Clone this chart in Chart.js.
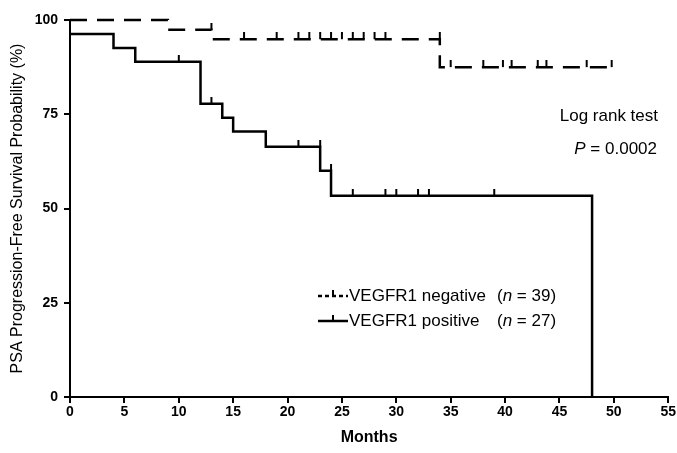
<!DOCTYPE html>
<html>
<head>
<meta charset="utf-8">
<script src="https://cdn.jsdelivr.net/npm/chart.js@4/dist/chart.umd.min.js"></script>
<style>
  body { margin: 0; background: #fff; }
  #km { display: block; }
</style>
</head>
<body>
<canvas id="km" width="677" height="453"></canvas>
<script>
// Kaplan-Meier steps (months, survival %)
const negTimes = [0, 9, 13, 34, 50];
const negSurv = [100, 97.4, 94.9, 87.5, 87.5];
const negCensored = [13, 16, 19, 21, 22, 23, 24, 25, 26, 27, 28, 29, 34, 35, 38, 39.8, 40.6, 43, 43.8, 47.5, 49.8];

const posTimes = [0, 4, 6, 12, 14, 15, 18, 23, 24, 48];
const posSurv = [96.3, 92.6, 88.9, 77.8, 74.1, 70.4, 66.4, 60.0, 53.4, 0];
const posCensored = [10, 13, 21, 23, 24, 26, 29, 30, 32, 33, 39];

const xTicks = [0, 5, 10, 15, 20, 25, 30, 35, 40, 45, 50, 55];
const yTicks = [0, 25, 50, 75, 100];

const FONT = 'Arial, "Liberation Sans", sans-serif';

// survival just before time t (censor marks sit on the curve level)
function survAt(times, surv, t) {
  let s = surv[0];
  for (let i = 0; i < times.length; i++) {
    if (times[i] < t) s = surv[i];
  }
  return s;
}

function steps(times, surv) {
  return times.map((t, i) => ({ x: t, y: surv[i] }));
}

function censorPts(times, surv, cens) {
  return cens.map(t => ({ x: t, y: survAt(times, surv, t) }));
}

// small upward tick used for censored observations
function tickMark(h) {
  const c = document.createElement('canvas');
  c.width = 4;
  c.height = h * 2;
  const g = c.getContext('2d');
  g.fillStyle = '#000';
  g.fillRect(1, 0, 2, h);
  return c;
}
const tick = tickMark(7);

const notes = {
  id: 'notes',
  afterDraw(chart) {
    const ctx = chart.ctx;
    ctx.save();
    ctx.fillStyle = '#000';
    ctx.strokeStyle = '#000';
    ctx.textBaseline = 'middle';

    // log rank text
    ctx.font = '17px ' + FONT;
    ctx.textAlign = 'right';
    ctx.fillText('Log rank test', 658, 116);
    const rest = ' = 0.0002';
    ctx.fillText(rest, 657, 149);
    const w = ctx.measureText(rest).width;
    ctx.font = 'italic 17px ' + FONT;
    ctx.fillText('P', 657 - w, 149);

    // legend
    const rows = [
      { y: 296, name: 'VEGFR1 negative', n: '39', dash: [4, 3] },
      { y: 321, name: 'VEGFR1 positive', n: '27', dash: [] }
    ];
    rows.forEach(r => {
      ctx.lineWidth = 2.5;
      ctx.setLineDash(r.dash);
      ctx.beginPath();
      ctx.moveTo(318, r.y);
      ctx.lineTo(348, r.y);
      ctx.stroke();
      ctx.setLineDash([]);
      ctx.fillRect(332, r.y - 6, 2, 6);

      ctx.textAlign = 'left';
      ctx.font = '17px ' + FONT;
      ctx.fillText(r.name, 349, r.y);
      let x = 497;
      ctx.fillText('(', x, r.y);
      x += ctx.measureText('(').width;
      ctx.font = 'italic 17px ' + FONT;
      ctx.fillText('n', x, r.y);
      x += ctx.measureText('n').width;
      ctx.font = '17px ' + FONT;
      ctx.fillText(' = ' + r.n + ')', x, r.y);
    });
    ctx.restore();
  }
};

new Chart(document.getElementById('km'), {
  type: 'scatter',
  data: {
    datasets: [
      {
        label: 'VEGFR1 negative',
        data: steps(negTimes, negSurv),
        showLine: true,
        stepped: 'before',
        borderColor: '#000',
        borderWidth: 2.5,
        borderDash: [17, 10],
        pointRadius: 0,
        fill: false,
        clip: false
      },
      {
        label: 'VEGFR1 positive',
        data: steps(posTimes, posSurv),
        showLine: true,
        stepped: 'before',
        borderColor: '#000',
        borderWidth: 2.5,
        pointRadius: 0,
        fill: false,
        clip: false
      },
      {
        label: 'negative censored',
        data: censorPts(negTimes, negSurv, negCensored),
        pointStyle: tick,
        pointRadius: 4,
        clip: false
      },
      {
        label: 'positive censored',
        data: censorPts(posTimes, posSurv, posCensored),
        pointStyle: tick,
        pointRadius: 4,
        clip: false
      }
    ]
  },
  options: {
    responsive: false,
    animation: false,
    layout: { padding: { left: 0, right: 8, top: 20, bottom: 0 } },
    plugins: {
      legend: { display: false },
      tooltip: { enabled: false }
    },
    scales: {
      x: {
        type: 'linear',
        min: 0,
        max: 55,
        afterBuildTicks: s => { s.ticks = xTicks.map(v => ({ value: v })); },
        afterFit: s => { s.height = 56; },
        ticks: { color: '#000', font: { family: FONT, size: 14, weight: 'bold' }, padding: 1, maxRotation: 0 },
        grid: { drawOnChartArea: false, drawTicks: true, tickLength: 6, color: '#000', lineWidth: 2 },
        border: { display: true, color: '#000', width: 2 },
        title: { display: true, text: 'Months', color: '#000', font: { family: FONT, size: 16, weight: 'bold' }, padding: { top: 2, bottom: 6 } }
      },
      y: {
        min: 0,
        max: 100,
        afterBuildTicks: s => { s.ticks = yTicks.map(v => ({ value: v })); },
        afterFit: s => { s.width = 70; },
        ticks: { color: '#000', font: { family: FONT, size: 14, weight: 'bold' }, padding: 6 },
        grid: { drawOnChartArea: false, drawTicks: true, tickLength: 6, color: '#000', lineWidth: 2 },
        border: { display: true, color: '#000', width: 2 },
        title: { display: true, text: 'PSA Progression-Free Survival Probability (%)', color: '#000', font: { family: FONT, size: 16 }, padding: { top: 8, bottom: 0 } }
      }
    }
  },
  plugins: [notes]
});
</script>
</body>
</html>
